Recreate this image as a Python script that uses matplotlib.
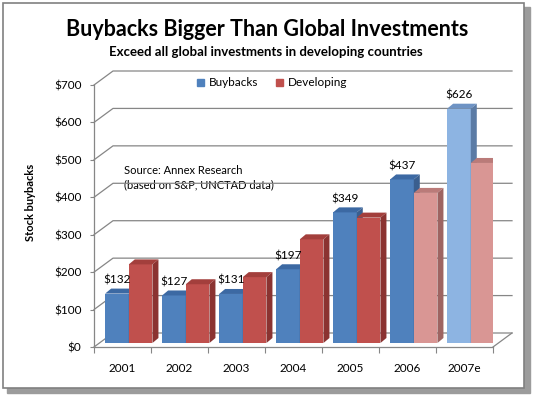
import matplotlib
matplotlib.use("Agg")
import matplotlib.pyplot as plt
from matplotlib.patches import Polygon, Rectangle
import numpy as np

# data
years = ['2001', '2002', '2003', '2004', '2005', '2006', '2007e']
buybacks = [132, 127, 131, 197, 349, 437, 626]
developing = [210, 157, 176, 277, 335, 401, 481]
yticks = [0, 100, 200, 300, 400, 500, 600, 700]

# faces: front, top, side
blue = ('#4F81BD', '#3C69A3', '#3A5F8F')
blue_est = ('#8DB4E2', '#6E93C4', '#5B7BA5')
red = ('#C0504D', '#A33F3C', '#8B3331')
pink = ('#D99694', '#BA7B79', '#9E6462')
buy_colors = [blue] * 6 + [blue_est]
dev_colors = [red] * 5 + [pink, pink]

plt.rcParams['font.family'] = ['Lato', 'DejaVu Sans']

W, H = 533, 395
fig = plt.figure(figsize=(W / 100, H / 100), dpi=100)

# background layer in pixel units
bg = fig.add_axes([0, 0, 1, 1], zorder=0)
bg.add_patch(Rectangle((7, 7), 523, 386, color='#9c9c9c'))
bg.add_patch(Rectangle((3, 3), 521, 385, facecolor='white', edgecolor='#808080', lw=1.2))

# title box with a blue -> pale pink gradient
stops = np.array([[0.38, 0.62, 0.97], [0.72, 0.84, 0.98], [0.98, 0.92, 0.98]])
t = np.linspace(0, 1, 100)
grad = np.stack([np.interp(t, [0, 0.5, 1], stops[:, k]) for k in range(3)], axis=1)
bg.imshow(grad[:, None, :], extent=(56, 477, 62, 11), aspect='auto', interpolation='bilinear')
bg.set_xlim(0, W)
bg.set_ylim(H, 0)
bg.axis('off')

bg.text(267.5, 36, 'Buybacks Bigger Than Global Investments', ha='center', va='baseline',
        fontsize=15.5, fontweight='bold')
bg.text(266, 56, 'Exceed all global investments in developing countries', ha='center',
        va='baseline', fontsize=9.5, fontweight='bold')
bg.text(30, 202, 'Stock buybacks', rotation=90, ha='center', va='center',
        fontsize=8, fontweight='bold')
bg.text(124, 171, 'Source: Annex Research', va='center', fontsize=8)
bg.text(124, 185, '(based on S&P, UNCTAD data)', va='center', fontsize=8)

# main chart, front plane of the 3D box
x_left, x_right, y_zero, y_top = 94, 493, 347, 85
ax = fig.add_axes([x_left / W, (H - y_zero) / H, (x_right - x_left) / W, (y_zero - y_top) / H], zorder=1)
ax.set_xlim(0, 7)
ax.set_ylim(0, 700)
ax.patch.set_alpha(0)
px_x = 7 / (x_right - x_left)
px_y = 700 / (y_zero - y_top)

grid_c = '#868686'
bx, by = 19 * px_x, 14 * px_y
for v in yticks:
    ax.plot([0, bx, 7 + bx], [v, v + by, v + by], color=grid_c, lw=0.9, clip_on=False, zorder=1)
ax.plot([7, 7 + bx], [0, by], color=grid_c, lw=0.9, clip_on=False, zorder=1)

for s in ['top', 'right']:
    ax.spines[s].set_visible(False)
for s in ['left', 'bottom']:
    ax.spines[s].set_color(grid_c)
    ax.spines[s].set_linewidth(0.9)

ax.set_yticks(yticks)
ax.set_yticklabels(['${}'.format(v) for v in yticks], fontsize=8.5)
ax.set_xticks(range(8))
ax.set_xticklabels([])
ax.tick_params(axis='y', direction='out', length=3, color=grid_c, pad=6)
ax.tick_params(axis='x', direction='out', length=4, color=grid_c)

for i, y in enumerate(years):
    ax.text(i + 0.5, -22 * px_y, y, ha='center', va='center', fontsize=8.5, clip_on=False)

# 3D columns
fx, fy = 6 * px_x, 4 * px_y   # front face offset from the front plane
dx, dy = 6 * px_x, 5 * px_y   # bar depth
w = 0.415


def column(x0, v, faces, z):
    front, top, side = faces
    xl = x0 + fx
    xr = xl + w
    yt = fy + v
    ax.bar(xl, v, width=w, bottom=fy, align='edge', color=front, zorder=z)
    ax.add_patch(Polygon([(xl, yt), (xr, yt), (xr + dx, yt + dy), (xl + dx, yt + dy)],
                         closed=True, fc=top, ec='none', zorder=z))
    ax.add_patch(Polygon([(xr, fy), (xr + dx, fy + dy), (xr + dx, yt + dy), (xr, yt)],
                         closed=True, fc=side, ec='none', zorder=z))
    return xl, yt


for i in range(len(years)):
    xl, yt = column(i + 0.09, buybacks[i], buy_colors[i], 3)
    column(i + 0.09 + w, developing[i], dev_colors[i], 4)
    ax.text(xl + w / 2, yt + 13.5 * px_y, '${}'.format(buybacks[i]), ha='center', va='center',
            fontsize=8.5, zorder=10, clip_on=False)

handles = [Rectangle((0, 0), 1, 1, color=blue[0]), Rectangle((0, 0), 1, 1, color=red[0])]
ax.legend(handles, ['Buybacks', 'Developing'], loc='center', bbox_to_anchor=(272 / W, 1 - 83 / H),
          bbox_transform=fig.transFigure, ncol=2, frameon=False, handlelength=0.6, handleheight=0.6,
          handletextpad=0.4, columnspacing=1.5, fontsize=8.5)

fig.savefig('out.png', dpi=100)
